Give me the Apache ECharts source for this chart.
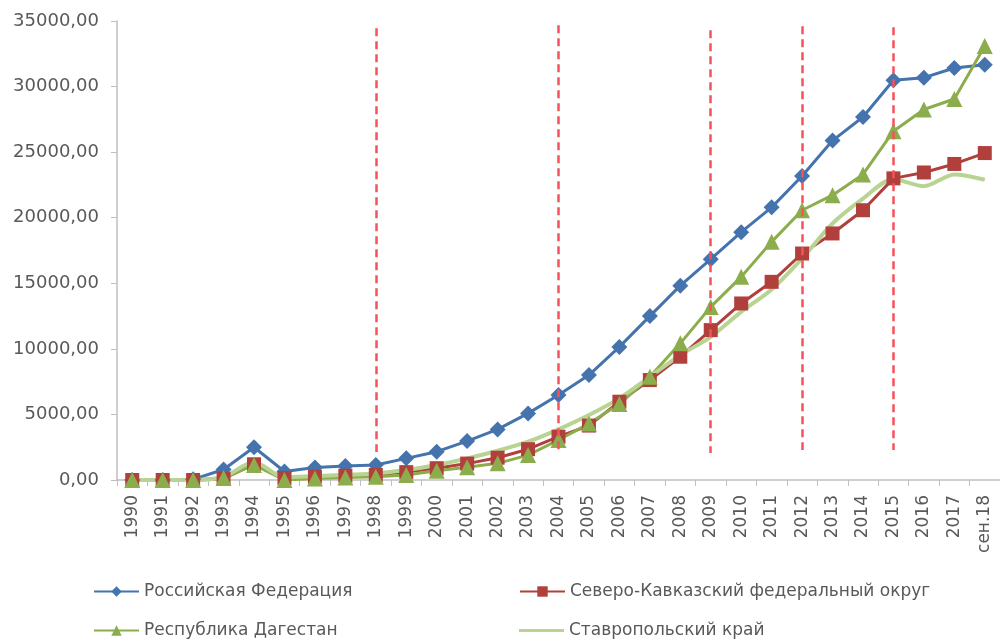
<!DOCTYPE html>
<html>
<head>
<meta charset="utf-8">
<script src="https://cdn.jsdelivr.net/npm/echarts@6/dist/echarts.min.js"></script>
<style>
    html,body{margin:0;padding:0;background:#fff;}
    #chart{width:1000px;height:640px;}
</style>
</head>
<body>
<div id="chart"></div>
<script>
    // категории по оси X
    let years = ['1990','1991','1992','1993','1994','1995','1996','1997','1998','1999',
        '2000','2001','2002','2003','2004','2005','2006','2007','2008','2009',
        '2010','2011','2012','2013','2014','2015','2016','2017','сен.18'];

    let seriesNames = ['Российская Федерация','Северо-Кавказский федеральный округ',
        'Республика Дагестан','Ставропольский край'];

    let rfData = [0,0,50,800,2500,650,960,1070,1140,1650,2160,2970,3860,5080,6480,
        8000,10150,12500,14820,16840,18900,20790,23180,25880,27680,30480,30680,31420,31660];
    let skfoData = [0,0,0,100,1200,150,250,330,380,600,900,1250,1700,2350,3300,
        4150,5970,7620,9400,11430,13460,15110,17270,18800,20570,23000,23450,24100,24930];
    let dagData = [0,0,0,150,1150,0,120,200,250,380,710,965,1270,1900,3050,
        4300,5790,7870,10420,13200,15490,18160,20570,21720,23300,26600,28250,29050,33100];
    let stavData = [0,0,0,250,1350,200,300,400,500,760,1140,1650,2230,2920,3860,
        4950,6220,7870,9520,10920,12820,14530,16890,19560,21460,22940,22400,23300,22900];

    // красные пунктирные линии (годы и их верх/низ по оси Y)
    let breakYears = ['1998','2004','2009','2012','2015'];
    let breakTop = [34440,34670,34290,34600,34520];
    let breakBottom = [2130,2290,2060,2290,2290];

    let textColor = '#595959';
    let axisColor = '#bfbfbf';
    let font = 'DejaVu Sans';

    function makeLegend(name, left, top, icon){
        let legend = {
            data:[name],
            left:left,
            top:top,
            itemWidth:45,
            itemHeight:13,
            itemGap:4,
            textStyle:{color:textColor, fontFamily:font, fontSize:17}
        }
        if(icon){
            // у Ставропольского края маркеров нет - только линия
            legend.data = [{name:name, icon:icon}];
            legend.itemHeight = 3;
        }
        return legend;
    }

    let chart = echarts.init(document.getElementById('chart'));
    let option = {
        animation:false,
        backgroundColor:'#fff',
        grid:{left:117, top:21, width:889, height:459},
        legend:[
            makeLegend(seriesNames[0], 88, 578),
            makeLegend(seriesNames[1], 514, 578),
            makeLegend(seriesNames[2], 88, 617),
            makeLegend(seriesNames[3], 514, 617, 'rect')
        ],
        xAxis:{
            type:'category',
            data:years,
            boundaryGap:true,
            axisLine:{lineStyle:{color:axisColor, width:1.5}},
            axisTick:{show:true, length:6, interval:0, lineStyle:{color:axisColor}},
            axisLabel:{rotate:90, interval:0, margin:15, color:textColor, fontFamily:font, fontSize:17}
        },
        yAxis:{
            type:'value',
            min:0,
            max:35000,
            interval:5000,
            splitLine:{show:false},
            axisLine:{show:true, lineStyle:{color:axisColor, width:1.5}},
            axisTick:{show:true, length:6, lineStyle:{color:axisColor}},
            axisLabel:{
                margin:18,
                color:textColor,
                fontFamily:font,
                fontSize:18,
                formatter:(v)=>v.toFixed(2).replace('.',',')
            }
        },
        series:[
            {
                name:seriesNames[0],
                type:'line',
                data:rfData,
                symbol:'diamond',
                symbolSize:16,
                itemStyle:{color:'#4473ad'},
                lineStyle:{color:'#4473ad', width:3},
                markLine:{
                    silent:true,
                    symbol:'none',
                    label:{show:false},
                    lineStyle:{color:'#f7515a', width:2.5, type:[8,5]},
                    data:breakYears.map((y,i)=>[
                        {coord:[y, breakTop[i]]},
                        {coord:[y, breakBottom[i]]}
                    ])
                }
            },
            {
                name:seriesNames[1],
                type:'line',
                data:skfoData,
                symbol:'rect',
                symbolSize:14,
                itemStyle:{color:'#b1403d'},
                lineStyle:{color:'#b1403d', width:3}
            },
            {
                name:seriesNames[2],
                type:'line',
                data:dagData,
                symbol:'triangle',
                symbolSize:16,
                itemStyle:{color:'#8cad4b'},
                lineStyle:{color:'#8cad4b', width:3}
            },
            {
                name:seriesNames[3],
                type:'line',
                data:stavData,
                symbol:'none',
                smooth:0.3,
                itemStyle:{color:'#b8d492'},
                lineStyle:{color:'#b8d492', width:4}
            }
        ]
    };
    chart.setOption(option);
</script>
</body>
</html>
